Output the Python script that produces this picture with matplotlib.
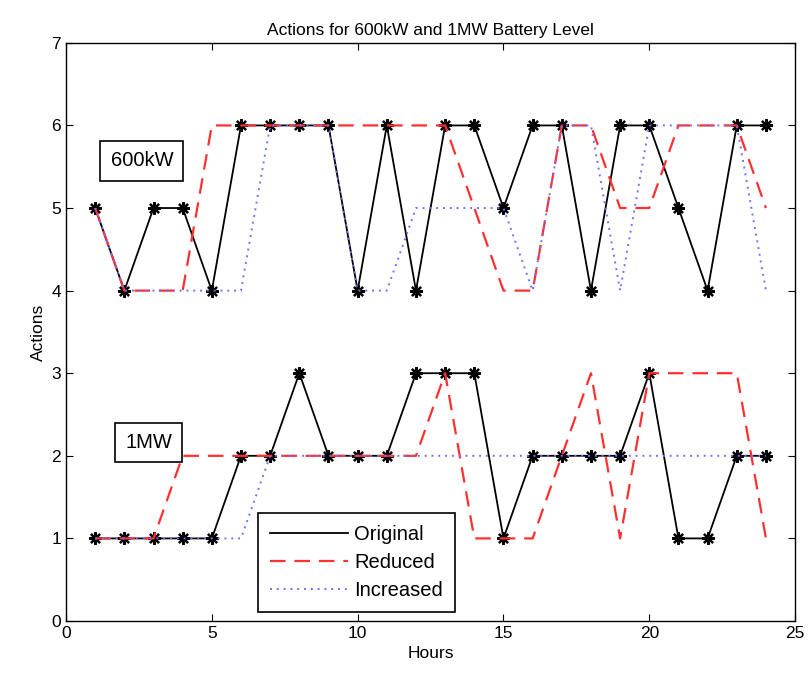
import matplotlib
matplotlib.use('Agg')
import matplotlib.pyplot as plt

plt.rcParams['font.family'] = ['Liberation Sans', 'DejaVu Sans']

hours = list(range(1, 25))

# 600kW battery level
orig_600 = [5, 4, 5, 5, 4, 6, 6, 6, 6, 4, 6, 4, 6, 6, 5, 6, 6, 4, 6, 6, 5, 4, 6, 6]
red_600 = [5, 4, 4, 4, 6, 6, 6, 6, 6, 6, 6, 6, 6, 5, 4, 4, 6, 6, 5, 5, 6, 6, 6, 5]
inc_600 = [5, 4, 4, 4, 4, 4, 6, 6, 6, 4, 4, 5, 5, 5, 5, 4, 6, 6, 4, 6, 6, 6, 6, 4]

# 1MW battery level
orig_1mw = [1, 1, 1, 1, 1, 2, 2, 3, 2, 2, 2, 3, 3, 3, 1, 2, 2, 2, 2, 3, 1, 1, 2, 2]
red_1mw = [1, 1, 1, 2, 2, 2, 2, 2, 2, 2, 2, 2, 3, 1, 1, 1, 2, 3, 1, 3, 3, 3, 3, 1]
inc_1mw = [1, 1, 1, 1, 1, 1, 2, 2, 2, 2, 2, 2, 2, 2, 2, 2, 2, 2, 2, 2, 2, 2, 2, 2]

fig = plt.figure(figsize=(8.11, 6.81), dpi=100)
ax = fig.add_axes([0.0814, 0.0881, 0.899, 0.849])

star = (8, 2, 0)
red_c = '#ff3030'
blue_c = '#7070ff'

ax.plot(hours, orig_600, color='black', lw=1.3, marker=star, ms=9, mew=1.6,
        label='Original')
ax.plot(hours, red_600, color=red_c, lw=1.6, linestyle=(0, (7, 4)), label='Reduced')
ax.plot(hours, inc_600, color=blue_c, lw=1.4, linestyle=(0, (1, 2.5)), label='Increased')

ax.plot(hours, orig_1mw, color='black', lw=1.3, marker=star, ms=9, mew=1.6)
ax.plot(hours, red_1mw, color=red_c, lw=1.6, linestyle=(0, (7, 4)))
ax.plot(hours, inc_1mw, color=blue_c, lw=1.4, linestyle=(0, (1, 2.5)))

ax.set_xlim(0, 25)
ax.set_ylim(0, 7)
ax.set_xticks([0, 5, 10, 15, 20, 25])
ax.set_yticks(range(0, 8))
ax.tick_params(direction='in', labelsize=12.5, length=5, top=True, right=True)
for s in ax.spines.values():
    s.set_linewidth(1.0)

ax.set_xlabel('Hours', fontsize=12.5)
ax.set_ylabel('Actions', fontsize=12.5)
ax.set_title('Actions for 600kW and 1MW Battery Level', fontsize=12.5)

box = dict(boxstyle='square,pad=0.5', facecolor='white', edgecolor='black', lw=1.2)
ax.text(2.6, 5.57, '600kW', fontsize=14.5, ha='center', va='center', bbox=box)
ax.text(2.83, 2.16, '1MW', fontsize=14.5, ha='center', va='center', bbox=box)

leg = ax.legend(loc='lower left', bbox_to_anchor=(0.263, 0.0156), fontsize=14.5,
                fancybox=False, edgecolor='black', framealpha=1,
                handlelength=3.9, handletextpad=0.3, borderpad=0.6,
                labelspacing=0.45, borderaxespad=0)
leg.get_frame().set_linewidth(1.2)
for h in leg.legend_handles:
    h.set_marker('')

fig.savefig('out.png', dpi=100)
